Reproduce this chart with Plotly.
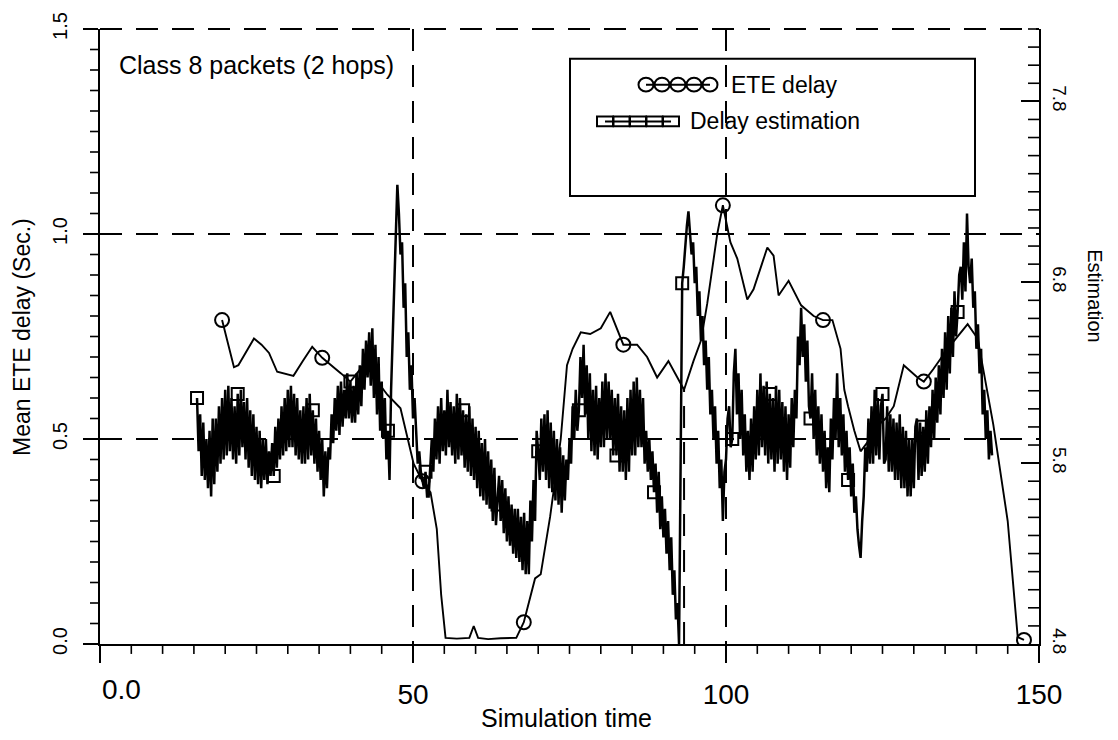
import plotly.graph_objects as go

# ---------------- data ----------------
# ETE delay (smooth line, circle markers) - left axis, seconds
ete_t = [19.5, 20.5, 21.4, 22.1, 23.3, 24.6, 25.8, 27.0, 28.3, 29.3, 30.9, 32.4, 33.9, 35.5,
         37.3, 38.5, 40.0, 41.5, 42.6, 44.3, 45.9, 48.0, 49.1, 50.1, 51.5, 52.8, 53.8, 54.5,
         55.2, 57.0, 59.0, 59.7, 60.4, 62.0, 64.0, 66.5, 67.7, 68.8, 69.5, 70.4, 71.9, 73.6,
         74.6, 75.5, 76.8, 78.3, 80.0, 81.5, 83.6, 85.8, 87.4, 89.0, 90.8, 93.3, 94.8, 96.0,
         97.0, 98.6, 99.5, 100.7, 101.8, 103.4, 104.4, 106.6, 107.6, 108.4, 110.0, 112.0,
         114.0, 115.5, 117.0, 118.3, 118.9, 119.5, 120.5, 121.5, 122.5, 124.0, 125.5, 126.8,
         128.4, 130.6, 131.6, 133.1, 135.4, 138.6, 140.2, 142.7, 145.0, 146.6, 147.6]
ete_v = [0.79, 0.73, 0.675, 0.68, 0.71, 0.745, 0.73, 0.71, 0.664, 0.66, 0.654, 0.69, 0.725, 0.698,
         0.676, 0.66, 0.64, 0.67, 0.69, 0.64, 0.608, 0.575, 0.50, 0.44, 0.397, 0.37, 0.28, 0.12,
         0.015, 0.013, 0.015, 0.044, 0.015, 0.012, 0.014, 0.015, 0.053, 0.12, 0.16, 0.17, 0.31, 0.50,
         0.68, 0.72, 0.76, 0.756, 0.77, 0.81, 0.73, 0.73, 0.70, 0.65, 0.69, 0.62, 0.69, 0.74,
         0.83, 1.0, 1.07, 0.98, 0.94, 0.84, 0.865, 0.967, 0.947, 0.85, 0.886, 0.826,
         0.80, 0.79, 0.79, 0.72, 0.62, 0.58, 0.52, 0.47, 0.49, 0.53, 0.55, 0.58,
         0.68, 0.65, 0.64, 0.67, 0.72, 0.78, 0.745, 0.535, 0.30, 0.017, 0.01]
ete_mark_t = [19.5, 35.5, 51.5, 67.7, 83.6, 99.5, 115.5, 131.6, 147.6]

# Delay estimation (noisy line, square markers), sampled every 0.25 from t = 15.5
EST_T0 = 15.5
EST_DT = 0.25
est_v = [
    0.60, 0.47, 0.56, 0.41, 0.54, 0.40, 0.50, 0.38, 0.52, 0.36, 0.55, 0.39, 0.55, 0.42, 0.58, 0.44, 0.60, 0.45, 0.62, 0.46,  # 15.5-20.25
    0.63, 0.47, 0.60, 0.45, 0.58, 0.44, 0.61, 0.46, 0.62, 0.48, 0.59, 0.45, 0.60, 0.43, 0.57, 0.41, 0.56, 0.40, 0.53, 0.39,  # 20.5-25.25
    0.52, 0.38, 0.50, 0.40, 0.50, 0.39, 0.47, 0.41, 0.49, 0.41, 0.53, 0.43, 0.55, 0.45, 0.58, 0.46, 0.60, 0.47, 0.62, 0.48,  # 25.5-30.25
    0.63, 0.48, 0.61, 0.46, 0.60, 0.45, 0.57, 0.44, 0.58, 0.44, 0.60, 0.45, 0.61, 0.46, 0.57, 0.44, 0.55, 0.42, 0.52, 0.40,  # 30.5-35.25
    0.50, 0.36, 0.47, 0.38, 0.48, 0.45, 0.56, 0.49, 0.60, 0.52, 0.63, 0.51, 0.64, 0.53, 0.62, 0.55, 0.66, 0.55, 0.64, 0.54,  # 35.5-40.25
    0.63, 0.54, 0.66, 0.56, 0.68, 0.58, 0.72, 0.62, 0.74, 0.65, 0.76, 0.63, 0.77, 0.60, 0.73, 0.56, 0.70, 0.52, 0.64, 0.50,  # 40.5-45.25
    0.60, 0.45, 0.52, 0.40, 0.62, 0.75, 0.85, 1.00, 1.12, 1.05, 0.95, 0.98, 0.82, 0.88, 0.70, 0.76, 0.62, 0.68, 0.55, 0.60,  # 45.5-50.25
    0.50, 0.44, 0.47, 0.42, 0.40, 0.38, 0.42, 0.36, 0.36, 0.44, 0.50, 0.42, 0.55, 0.45, 0.58, 0.44, 0.60, 0.47, 0.57, 0.46,  # 50.5-55.25
    0.62, 0.48, 0.59, 0.46, 0.58, 0.44, 0.61, 0.45, 0.60, 0.46, 0.57, 0.43, 0.56, 0.42, 0.58, 0.41, 0.55, 0.40, 0.53, 0.38,  # 55.5-60.25
    0.52, 0.36, 0.49, 0.35, 0.50, 0.34, 0.47, 0.33, 0.45, 0.30, 0.43, 0.29, 0.34, 0.41, 0.30, 0.40, 0.27, 0.38, 0.25, 0.36,  # 60.5-65.25
    0.24, 0.34, 0.22, 0.33, 0.21, 0.33, 0.20, 0.31, 0.18, 0.32, 0.17, 0.30, 0.17, 0.35, 0.25, 0.40, 0.30, 0.52, 0.47, 0.40,  # 65.5-70.25
    0.55, 0.42, 0.56, 0.40, 0.57, 0.38, 0.54, 0.37, 0.52, 0.35, 0.50, 0.34, 0.48, 0.32, 0.46, 0.35, 0.45, 0.40, 0.50, 0.44,  # 70.5-75.25
    0.58, 0.50, 0.62, 0.52, 0.57, 0.70, 0.60, 0.73, 0.56, 0.68, 0.50, 0.66, 0.47, 0.62, 0.46, 0.63, 0.45, 0.60, 0.48, 0.64,  # 75.5-80.25
    0.48, 0.66, 0.50, 0.64, 0.50, 0.62, 0.46, 0.60, 0.46, 0.61, 0.42, 0.58, 0.42, 0.57, 0.40, 0.60, 0.42, 0.62, 0.46, 0.64,  # 80.5-85.25
    0.46, 0.65, 0.48, 0.62, 0.48, 0.60, 0.44, 0.52, 0.42, 0.50, 0.40, 0.47, 0.37, 0.44, 0.32, 0.42, 0.28, 0.36, 0.26, 0.33,  # 85.5-90.25
    0.22, 0.30, 0.18, 0.26, 0.12, 0.18, 0.06, 0.10, 0.00, 0.40, 0.88, 0.92, 0.98, 1.02, 1.055, 1.00, 0.95, 0.98, 0.88, 0.92,  # 90.5-95.25
    0.80, 0.86, 0.74, 0.80, 0.68, 0.74, 0.62, 0.70, 0.56, 0.62, 0.50, 0.58, 0.44, 0.52, 0.38, 0.45, 0.30, 0.42, 0.45, 0.55,  # 95.5-100.25
    0.58, 0.48, 0.50, 0.66, 0.72, 0.56, 0.66, 0.50, 0.62, 0.46, 0.56, 0.42, 0.52, 0.40, 0.55, 0.42, 0.58, 0.45, 0.62, 0.46,  # 100.5-105.25
    0.66, 0.48, 0.63, 0.46, 0.64, 0.44, 0.61, 0.45, 0.60, 0.42, 0.63, 0.44, 0.62, 0.45, 0.59, 0.42, 0.58, 0.40, 0.56, 0.43,  # 105.5-110.25
    0.60, 0.48, 0.62, 0.55, 0.75, 0.68, 0.82, 0.70, 0.78, 0.64, 0.74, 0.58, 0.55, 0.66, 0.50, 0.62, 0.46, 0.58, 0.44, 0.56,  # 110.5-115.25
    0.42, 0.52, 0.38, 0.48, 0.37, 0.55, 0.45, 0.60, 0.50, 0.66, 0.48, 0.60, 0.46, 0.56, 0.42, 0.52, 0.40, 0.48, 0.36, 0.44,  # 115.5-120.25
    0.32, 0.36, 0.28, 0.24, 0.21, 0.30, 0.36, 0.48, 0.42, 0.55, 0.44, 0.58, 0.44, 0.62, 0.46, 0.60, 0.45, 0.58, 0.61, 0.44,  # 120.5-125.25
    0.45, 0.58, 0.42, 0.56, 0.42, 0.55, 0.40, 0.54, 0.40, 0.56, 0.38, 0.53, 0.38, 0.52, 0.36, 0.50, 0.36, 0.50, 0.38, 0.53,  # 125.5-130.25
    0.55, 0.40, 0.54, 0.41, 0.53, 0.42, 0.57, 0.44, 0.58, 0.48, 0.62, 0.50, 0.65, 0.54, 0.68, 0.56, 0.72, 0.60, 0.76, 0.62,  # 130.5-135.25
    0.80, 0.66, 0.82, 0.70, 0.86, 0.75, 0.81, 0.90, 0.92, 0.84, 0.98, 0.86, 1.05, 0.92, 0.88, 0.94, 0.82, 0.86, 0.72, 0.78,  # 135.5-140.25
    0.66, 0.72, 0.56, 0.62, 0.50, 0.57, 0.45, 0.52, 0.46,                                                                      # 140.5-142.5
]
est_mark_t = [15.5, 22.0, 27.75, 34.0, 40.0, 46.0, 52.0, 58.0, 63.5, 70.0, 76.5,
              82.5, 88.5, 93.0, 101.0, 107.0, 113.5, 119.5, 125.0, 131.5, 137.0]

series_names = ["ETE delay", "Delay estimation"]

# axes
X_RANGE = [0, 150]
X_DTICK, X_MINOR = 50, 5
Y_RANGE = [0, 1.5]
Y_DTICK, Y_MINOR = 0.5, 0.05
Y2_RANGE = [4.8, 8.2]
Y2_DTICK, Y2_MINOR = 1.0, 0.1

# vertical dashed drop line in the picture
DROP_X = 93.3
DROP_Y = 0.62

# ---------------- build ----------------
est_t = [EST_T0 + EST_DT * i for i in range(len(est_v))]
est_mark_v = [est_v[int(round((t - EST_T0) / EST_DT))] for t in est_mark_t]
ete_lookup = dict(zip(ete_t, ete_v))
ete_mark_v = [ete_lookup[t] for t in ete_mark_t]

FONT = "Liberation Sans, Arial, sans-serif"
NARROW = "Liberation Sans Narrow, Arial Narrow, sans-serif"
DASH = "22px,14px"

W, H = 1118, 740
L, R, T, B = 100, 79, 25, 96
pw, ph = W - L - R, H - T - B


def px_x(p):
    return (p - L) / pw


def px_y(p):
    return (H - B - p) / ph


fig = go.Figure()

fig.add_trace(go.Scatter(x=est_t, y=est_v, mode="lines", name=series_names[1],
                         line=dict(color="black", width=2.5), showlegend=False))
fig.add_trace(go.Scatter(x=ete_t, y=ete_v, mode="lines", name=series_names[0],
                         line=dict(color="black", width=1.9), showlegend=False))
fig.add_trace(go.Scatter(x=est_mark_t, y=est_mark_v, mode="markers", name=series_names[1],
                         marker=dict(symbol="square-open", size=12, color="black",
                                     line=dict(color="black", width=2)),
                         showlegend=False))
fig.add_trace(go.Scatter(x=ete_mark_t, y=ete_mark_v, mode="markers", name=series_names[0],
                         marker=dict(symbol="circle-open", size=14, color="black",
                                     line=dict(color="black", width=2)),
                         showlegend=False))
fig.add_trace(go.Scatter(x=[None], y=[None], yaxis="y2", showlegend=False, hoverinfo="skip"))

fig.update_layout(
    width=W, height=H,
    margin=dict(l=L, r=R, t=T, b=B, pad=0),
    paper_bgcolor="white", plot_bgcolor="rgba(0,0,0,0)",
    font=dict(family=FONT, color="black", size=20),
    showlegend=False,
    xaxis=dict(range=X_RANGE, showline=True, linecolor="black", linewidth=2,
               tickmode="linear", tick0=0, dtick=X_DTICK, labelalias={"0": " "},
               ticks="outside", ticklen=17, tickwidth=2, tickcolor="black",
               ticklabelstandoff=7,
               tickfont=dict(family=NARROW, size=28),
               showgrid=True, gridcolor="black", gridwidth=2, griddash=DASH,
               zeroline=False, mirror=False),
    yaxis=dict(range=Y_RANGE, showline=True, linecolor="black", linewidth=2,
               tickmode="linear", tick0=0, dtick=Y_DTICK, tickformat=".1f",
               ticks="outside", ticklen=15, tickwidth=2, tickcolor="black",
               tickangle=-90, ticklabelstandoff=8,
               tickfont=dict(family=FONT, size=20),
               showgrid=True, gridcolor="black", gridwidth=2, griddash=DASH,
               zeroline=False),
    yaxis2=dict(range=Y2_RANGE, overlaying="y", side="right", anchor="x",
                showline=True, linecolor="black", linewidth=2,
                tickmode="linear", tick0=Y2_RANGE[0], dtick=Y2_DTICK, tickformat=".1f",
                ticks="inside", ticklen=18, tickwidth=2, tickcolor="black",
                tickangle=90, ticklabelstandoff=4,
                tickfont=dict(family=FONT, size=19),
                showgrid=False, zeroline=False),
)

# ---- minor ticks (axis decoration) ----
tick_line = dict(color="black", width=1.6)
n = int(round((X_RANGE[1] - X_RANGE[0]) / X_MINOR))
for k in range(n + 1):
    v = X_RANGE[0] + k * X_MINOR
    if abs(v / X_DTICK - round(v / X_DTICK)) < 1e-9:
        continue
    xp = (v - X_RANGE[0]) / (X_RANGE[1] - X_RANGE[0])
    fig.add_shape(type="line", xref="paper", yref="paper", x0=xp, x1=xp, y0=0, y1=-10 / ph,
                  line=tick_line, layer="above")
n = int(round((Y_RANGE[1] - Y_RANGE[0]) / Y_MINOR))
for k in range(n + 1):
    v = Y_RANGE[0] + k * Y_MINOR
    if abs(v / Y_DTICK - round(v / Y_DTICK)) < 1e-9:
        continue
    yp = (v - Y_RANGE[0]) / (Y_RANGE[1] - Y_RANGE[0])
    fig.add_shape(type="line", xref="paper", yref="paper", x0=0, x1=-10 / pw, y0=yp, y1=yp,
                  line=tick_line, layer="above")
n = int((Y2_RANGE[1] - Y2_RANGE[0]) / Y2_MINOR + 1e-9)
for k in range(n + 1):
    v = Y2_RANGE[0] + k * Y2_MINOR
    if abs((v - Y2_RANGE[0]) / Y2_DTICK - round((v - Y2_RANGE[0]) / Y2_DTICK)) < 1e-6:
        continue
    yp = (v - Y2_RANGE[0]) / (Y2_RANGE[1] - Y2_RANGE[0])
    fig.add_shape(type="line", xref="paper", yref="paper", x0=1, x1=1 - 11 / pw, y0=yp, y1=yp,
                  line=tick_line, layer="above")

# dashed top border (grid line at 1.5)
fig.add_shape(type="line", xref="paper", yref="paper", x0=0, x1=1, y0=1, y1=1,
              line=dict(color="black", width=2, dash=DASH), layer="above")
# dashed drop line
fig.add_shape(type="line", xref="x", yref="y", x0=DROP_X, x1=DROP_X, y0=0, y1=DROP_Y,
              line=dict(color="black", width=2, dash=DASH), layer="below")

# ---- legend (frame, sample chains, labels) ----
fig.add_shape(type="rect", xref="paper", yref="paper",
              x0=px_x(570), x1=px_x(975), y0=px_y(193), y1=px_y(55),
              line=dict(color="black", width=2), fillcolor="rgba(0,0,0,0)", layer="above")
LEG_ROW1_Y, LEG_ROW2_Y = 81, 118
CIRC_CENTERS = [646, 662, 678, 694, 710]
SQ_CENTERS = [605, 621.5, 638, 654.5, 671]
sample_line = dict(color="black", width=2)
fig.add_shape(type="line", xref="paper", yref="paper",
              x0=px_x(CIRC_CENTERS[0]), x1=px_x(CIRC_CENTERS[-1]),
              y0=px_y(LEG_ROW1_Y), y1=px_y(LEG_ROW1_Y), line=sample_line, layer="above")
for c in CIRC_CENTERS:
    fig.add_shape(type="circle", xref="paper", yref="paper",
                  x0=px_x(c - 7.5), x1=px_x(c + 7.5),
                  y0=px_y(LEG_ROW1_Y + 7), y1=px_y(LEG_ROW1_Y - 7),
                  line=sample_line, fillcolor="rgba(0,0,0,0)", layer="above")
fig.add_shape(type="line", xref="paper", yref="paper",
              x0=px_x(SQ_CENTERS[0]), x1=px_x(SQ_CENTERS[-1]),
              y0=px_y(LEG_ROW2_Y), y1=px_y(LEG_ROW2_Y), line=sample_line, layer="above")
for c in SQ_CENTERS:
    fig.add_shape(type="rect", xref="paper", yref="paper",
                  x0=px_x(c - 8), x1=px_x(c + 8),
                  y0=px_y(LEG_ROW2_Y + 5), y1=px_y(LEG_ROW2_Y - 5),
                  line=sample_line, fillcolor="rgba(0,0,0,0)", layer="above")
fig.add_annotation(text=series_names[0], xref="paper", yref="paper",
                   x=px_x(729), y=px_y(LEG_ROW1_Y), xanchor="left", yanchor="middle",
                   showarrow=False, font=dict(family=FONT, size=23))
fig.add_annotation(text=series_names[1], xref="paper", yref="paper",
                   x=px_x(688), y=px_y(LEG_ROW2_Y), xanchor="left", yanchor="middle",
                   showarrow=False, font=dict(family=FONT, size=23))

# ---- texts ----
fig.add_annotation(text="Class 8 packets (2 hops)", xref="paper", yref="paper",
                   x=px_x(117), y=px_y(61), xanchor="left", yanchor="middle",
                   showarrow=False, font=dict(family=FONT, size=25))
fig.add_annotation(text="0.0", xref="paper", yref="paper",
                   x=px_x(121), y=px_y(690), xanchor="center", yanchor="middle",
                   showarrow=False, font=dict(family=NARROW, size=28))
fig.add_annotation(text="Simulation time", xref="paper", yref="paper",
                   x=px_x(566), y=px_y(718), xanchor="center", yanchor="middle",
                   showarrow=False, font=dict(family=NARROW, size=25))
fig.add_annotation(text="Mean ETE delay (Sec.)", xref="paper", yref="paper",
                   x=px_x(22), y=px_y(335), xanchor="center", yanchor="middle",
                   textangle=-90, showarrow=False, font=dict(family=FONT, size=23))
fig.add_annotation(text="Estimation", xref="paper", yref="paper",
                   x=px_x(1095), y=px_y(293), xanchor="center", yanchor="middle",
                   textangle=90, showarrow=False, font=dict(family=FONT, size=20))

fig.write_html("out.html")
